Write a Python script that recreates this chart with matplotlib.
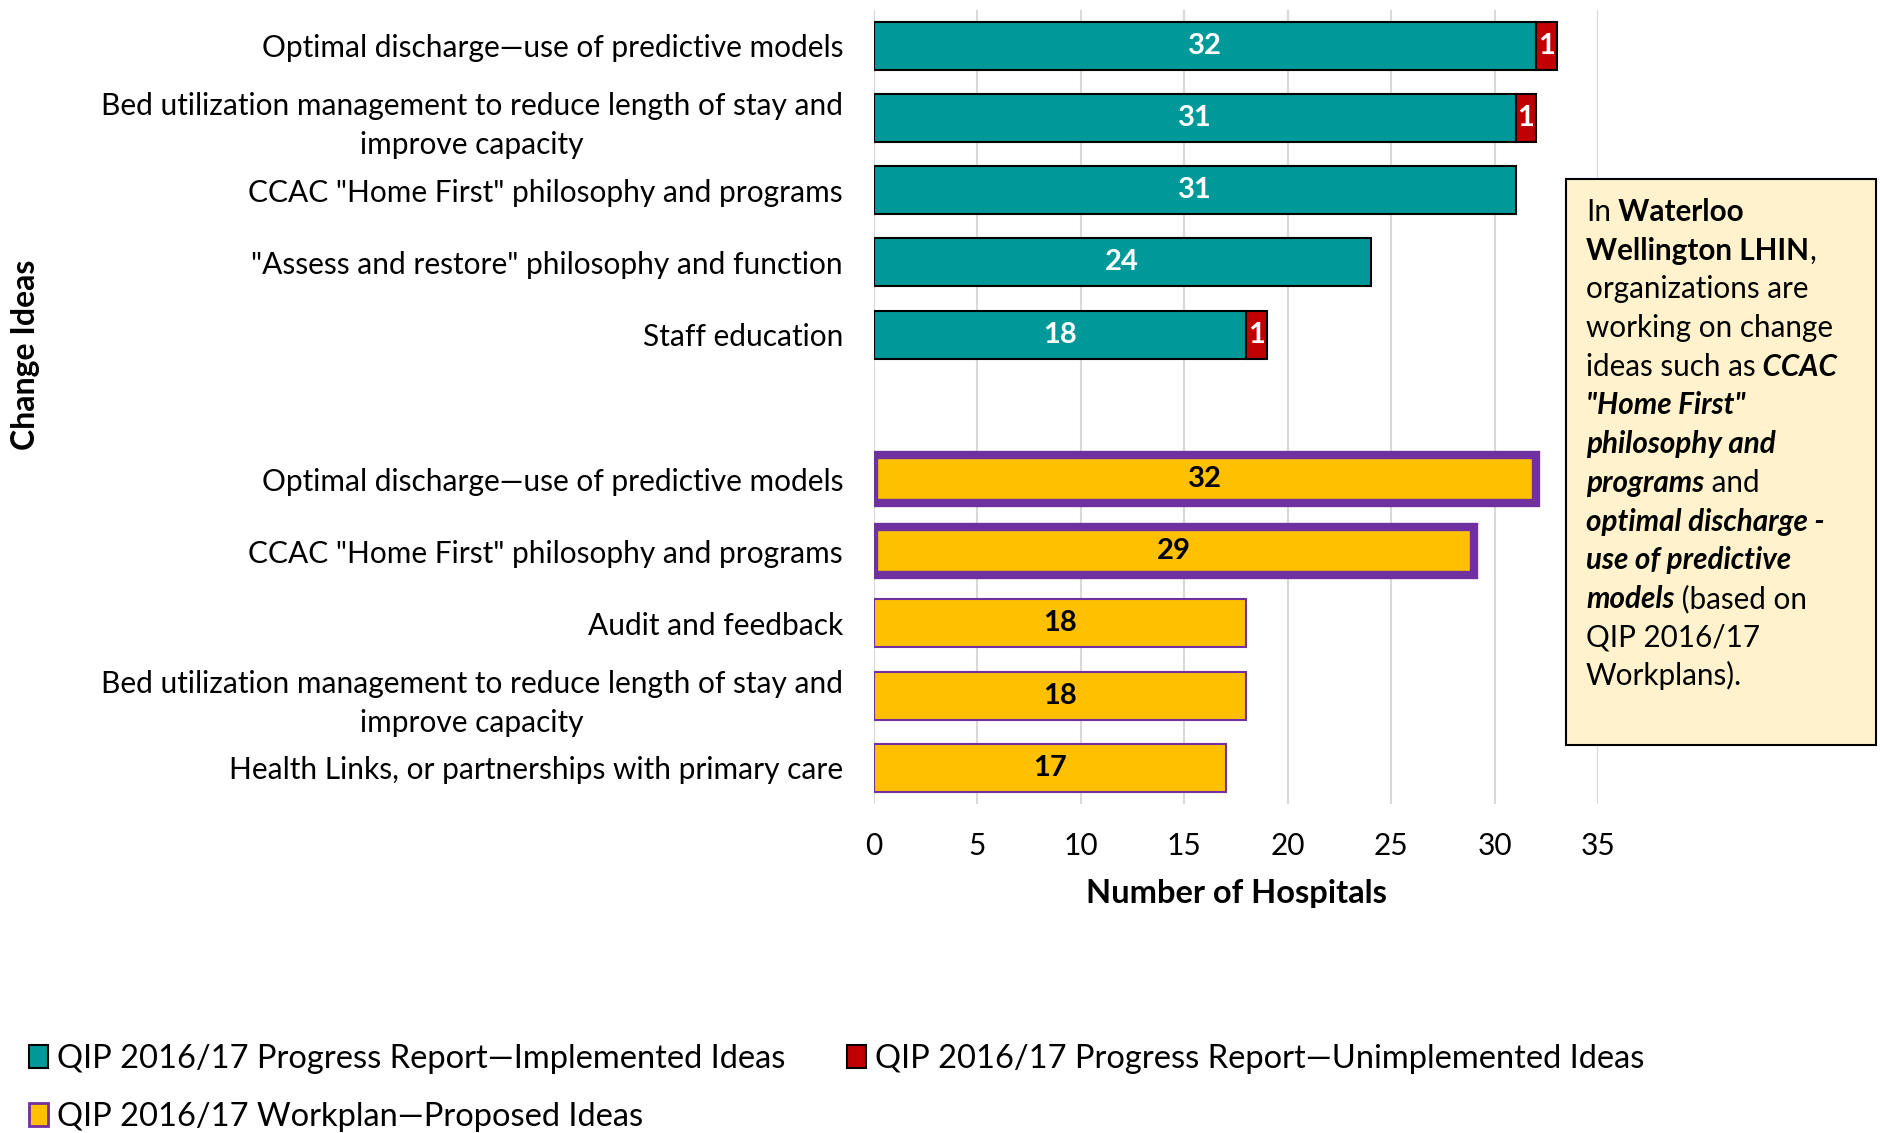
import numpy as np
import matplotlib.pyplot as plt
from matplotlib.patches import Patch, Rectangle

# QIP 2016/17 Progress Report (top group)
progress_ideas = [
    "Optimal discharge\u2014use of predictive models",
    "Bed utilization management to reduce length of stay and\nimprove capacity",
    'CCAC "Home First" philosophy and programs',
    '"Assess and restore" philosophy and function',
    "Staff education",
]
implemented = [32, 31, 31, 24, 18]
unimplemented = [1, 1, 0, 0, 1]

# QIP 2016/17 Workplan (bottom group)
workplan_ideas = [
    "Optimal discharge\u2014use of predictive models",
    'CCAC "Home First" philosophy and programs',
    "Audit and feedback",
    "Bed utilization management to reduce length of stay and\nimprove capacity",
    "Health Links, or partnerships with primary care",
]
proposed = [32, 29, 18, 18, 17]

x_ticks = [0, 5, 10, 15, 20, 25, 30, 35]

legend_labels = [
    "QIP 2016/17 Progress Report\u2014Implemented Ideas",
    "QIP 2016/17 Workplan\u2014Proposed Ideas",
    "QIP 2016/17 Progress Report\u2014Unimplemented Ideas",
]

# callout text, one list of (text, weight, style) runs per line
callout_lines = [
    [("In", "normal", "normal"), (" Waterloo", "bold", "normal")],
    [("Wellington LHIN", "bold", "normal"), (",", "normal", "normal")],
    [("organizations are", "normal", "normal")],
    [("working on change", "normal", "normal")],
    [("ideas such as", "normal", "normal"), (" CCAC", "bold", "italic")],
    [('"Home First"', "bold", "italic")],
    [("philosophy and", "bold", "italic")],
    [("programs", "bold", "italic"), (" and", "normal", "normal")],
    [("optimal discharge -", "bold", "italic")],
    [("use of predictive", "bold", "italic")],
    [("models", "bold", "italic"), (" (based on", "normal", "normal")],
    [("QIP 2016/17", "normal", "normal")],
    [("Workplans).", "normal", "normal")],
]

TEAL = "#009999"
RED = "#C00000"
YELLOW = "#FFC000"
PURPLE = "#7030A0"

plt.rcParams["font.family"] = ["Lato", "DejaVu Sans"]

W, H = 1881, 1133
fig = plt.figure(figsize=(W / 100, H / 100), dpi=100)
ax = fig.add_axes([873.6 / W, 1 - 804 / H, 724.8 / W, 794.4 / H])

n_prog = len(progress_ideas)
y_prog = np.arange(n_prog)
y_plan = np.arange(len(workplan_ideas)) + n_prog + 1
bar_h = 0.665

teal = ax.barh(y_prog, implemented, height=bar_h, color=TEAL,
               edgecolor="black", linewidth=1.5)
ax.bar_label(teal, label_type="center", color="white", fontsize=21,
             fontweight="bold")

unimp = np.array(unimplemented)
mask = unimp > 0
red = ax.barh(y_prog[mask], unimp[mask], left=np.array(implemented)[mask],
              height=bar_h, color=RED, edgecolor="black", linewidth=1.5)
ax.bar_label(red, label_type="center", color="white", fontsize=21,
             fontweight="bold")

# top two proposed ideas get the heavy purple outline
edge_w = [6 if i < 2 else 1.5 for i in range(len(proposed))]
yellow = ax.barh(y_plan, proposed, height=bar_h, color=YELLOW,
                 edgecolor=PURPLE, linewidth=edge_w)
ax.bar_label(yellow, label_type="center", color="black", fontsize=21,
             fontweight="bold")

ax.set_yticks(np.concatenate([y_prog, y_plan]), progress_ideas + workplan_ideas,
              multialignment="center", linespacing=1.45)
ax.set_ylim(y_plan[-1] + 0.5, -0.5)
ax.set_xlim(x_ticks[0], x_ticks[-1])
ax.set_xticks(x_ticks)
ax.tick_params(axis="both", length=0, labelsize=21.5)
ax.tick_params(axis="y", pad=22)
ax.tick_params(axis="x", pad=20)
ax.grid(axis="x", color="#D9D9D9", linewidth=1.5)
ax.set_axisbelow(True)
for s in ax.spines.values():
    s.set_visible(False)

ax.set_xlabel("Number of Hospitals", fontsize=23.5, fontweight="bold", labelpad=14)
fig.text(26 / W, 1 - 355 / H, "Change Ideas", rotation=90, fontsize=23,
         fontweight="bold", ha="center", va="center")

# callout box
fig.add_artist(Rectangle((1566 / W, 1 - 745 / H), 310 / W, 566 / H,
                         transform=fig.transFigure, facecolor="#FFF2CC",
                         edgecolor="black", linewidth=1.5, zorder=4))
renderer = fig.canvas.get_renderer()
for i, runs in enumerate(callout_lines):
    x = 1586 / W
    y = 1 - (221 + i * 38.7) / H
    for text, weight, style in runs:
        t = fig.text(x, y, text, fontsize=21.3, fontweight=weight, fontstyle=style,
                     ha="left", va="baseline", zorder=5)
        x = t.get_window_extent(renderer).x1 / fig.bbox.width

handles = [
    Patch(facecolor=TEAL, edgecolor="black", linewidth=1.5),
    Patch(facecolor=YELLOW, edgecolor=PURPLE, linewidth=2),
    Patch(facecolor=RED, edgecolor="black", linewidth=1.5),
]
fig.legend(handles, legend_labels, ncol=2, loc="upper left",
           bbox_to_anchor=(29 / W, 1 - 1044 / H), frameon=False, fontsize=23.5,
           handlelength=0.58, handleheight=0.68, handletextpad=0.27,
           columnspacing=1.9, labelspacing=0.85, borderpad=0, borderaxespad=0)

fig.savefig("out.png", dpi=100)
